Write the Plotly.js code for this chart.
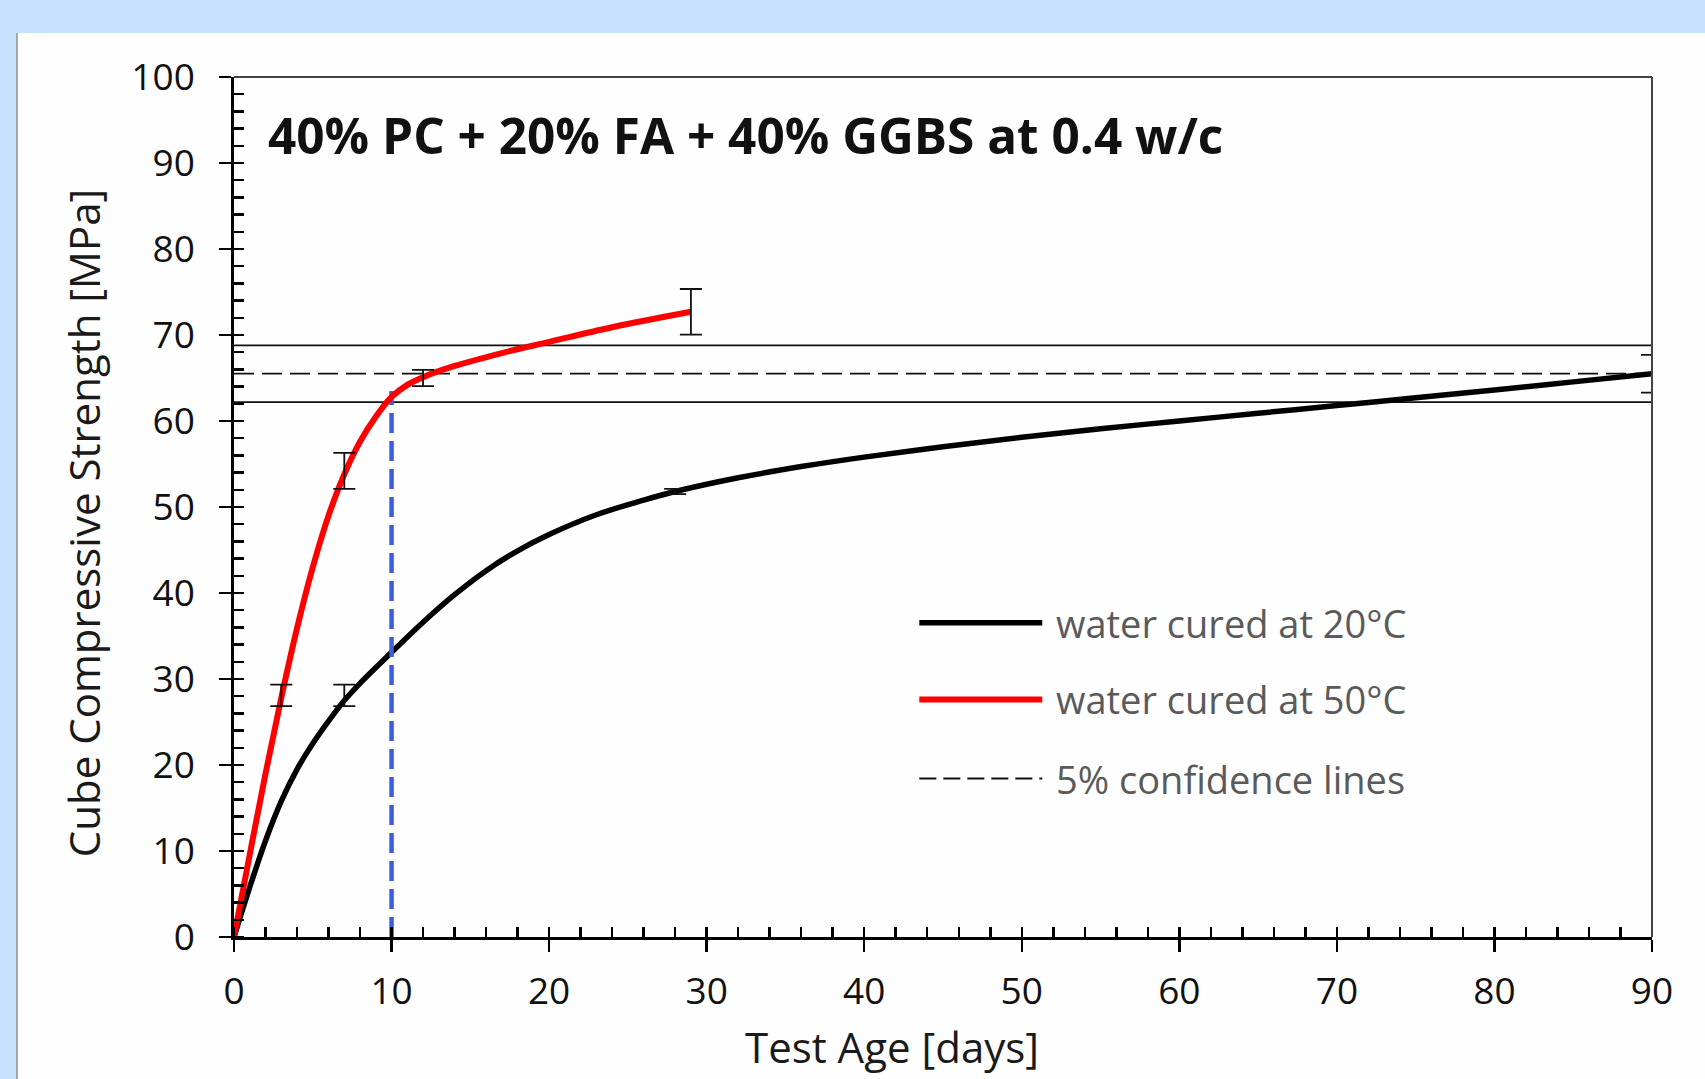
<!DOCTYPE html>
<html>
<head>
<meta charset="utf-8">
<script src="https://cdn.plot.ly/plotly-3.0.1.min.js"></script>
<style>
html,body{margin:0;padding:0;width:1705px;height:1079px;overflow:hidden;background:#c7e1fa;}
#panel{position:absolute;left:16px;top:33px;width:1689px;height:1046px;background:#fefefe;border-left:2px solid #9ea9b4;box-sizing:border-box;}
#chart{position:absolute;left:0;top:0;width:1705px;height:1079px;}
</style>
</head>
<body>
<div id="panel"></div>
<div id="chart"></div>
<script>
// ---- data ----
const chartTitle = "40% PC + 20% FA + 40% GGBS at 0.4 w/c";
const xTitle = "Test Age [days]";
const yTitle = "Cube Compressive Strength [MPa]";
const legendLabels = ["water cured at 20°C", "water cured at 50°C", "5% confidence lines"];

// water cured at 20°C (fitted curve)
const days20 = [0, 1, 2, 3, 4, 5, 6, 7, 8, 10, 12, 14, 16, 18, 20, 23, 26, 28, 32, 36, 40, 45, 50, 55, 60, 65, 70, 75, 80, 85, 90];
const strength20 = [0, 5.8, 11.2, 15.8, 19.5, 22.5, 25.1, 27.5, 29.5, 33.1, 36.6, 39.8, 42.6, 44.9, 46.8, 49.1, 50.8, 51.8, 53.4, 54.7, 55.8, 57.0, 58.1, 59.1, 60.0, 60.9, 61.8, 62.7, 63.6, 64.55, 65.5];

// water cured at 50°C (fitted curve)
const days50 = [0, 1, 2, 3, 4, 5, 6, 7, 8, 9, 10, 11, 12, 14, 17, 20, 24, 29];
const strength50 = [0, 9.6, 19.0, 27.8, 35.9, 43.0, 49.0, 53.8, 57.6, 60.5, 62.8, 64.2, 65.1, 66.4, 67.9, 69.2, 70.9, 72.7];

// measured means with error bars
const errDays20 = [7, 28, 90];
const errMean20 = [28.1, 51.8, 65.5];
const errSpread20 = [1.25, 0.3, 2.2];
const errDays50 = [3, 7, 12, 29];
const errMean50 = [28.1, 54.2, 65.0, 72.7];
const errSpread50 = [1.25, 2.1, 0.95, 2.65];

// 5% confidence lines around the 90-day 20°C strength
const confDays = [0, 90];
const confUpper = [68.8, 68.8];
const confMean = [65.5, 65.5];
const confLower = [62.2, 62.2];

// equivalent-age marker (blue dashed)
const equivDays = [10, 10];
const equivStrength = [0, 63.5];

// axis ranges
const xRange = [0, 90];
const yRange = [0, 100];

// ---- styling ----
const FONT = "Open Sans, Noto Sans, sans-serif";
const AX = "#000000";

const traces = [
  {x: confDays, y: confUpper, mode: "lines", line: {color: "#111", width: 1.8}, hoverinfo: "skip"},
  {x: confDays, y: confLower, mode: "lines", line: {color: "#111", width: 1.8}, hoverinfo: "skip"},
  {x: confDays, y: confMean, mode: "lines", line: {color: "#111", width: 1.8, dash: "20px,8px"}, hoverinfo: "skip"},
  {x: days20, y: strength20, mode: "lines", line: {color: "#000", width: 5.5, shape: "spline", smoothing: 1}},
  {x: equivDays, y: equivStrength, mode: "lines", line: {color: "#3b5fd8", width: 4.5, dash: "20px,8px"}},
  {x: days50, y: strength50, mode: "lines", line: {color: "#ff0000", width: 6, shape: "spline", smoothing: 1}},
  {x: errDays20, y: errMean20, mode: "markers", marker: {size: 1, opacity: 0},
   error_y: {type: "data", array: errSpread20, visible: true, color: "#111", thickness: 1.8, width: 11}},
  {x: errDays50, y: errMean50, mode: "markers", marker: {size: 1, opacity: 0},
   error_y: {type: "data", array: errSpread50, visible: true, color: "#111", thickness: 1.8, width: 11}},
  {x: [], y: [], xaxis: "x2", yaxis: "y", mode: "lines"},
  {x: [], y: [], xaxis: "x", yaxis: "y2", mode: "lines"}
];
traces.forEach(t => { t.showlegend = false; });

const tickFont = {family: FONT, size: 37, color: "#111"};

// legend drawn in paper coordinates
const legY = [0.3653, 0.2763, 0.1843];
const legX0 = 0.4833, legX1 = 0.570, legTextX = 0.578;
const legStyles = [
  {color: "#000", width: 5.5, dash: "solid"},
  {color: "#ff0000", width: 6, dash: "solid"},
  {color: "#111", width: 2, dash: "17px,7px"}
];
const shapes = [
  {type: "line", xref: "paper", yref: "paper", x0: 0, x1: 1, y0: 1, y1: 1, line: {color: "#444", width: 2}},
  {type: "line", xref: "paper", yref: "paper", x0: 1, x1: 1, y0: 0, y1: 1, line: {color: "#444", width: 2}}
];
const annotations = [
  {text: "<b>" + chartTitle + "</b>", xref: "paper", yref: "paper", x: 0.0229, y: 0.932,
   xanchor: "left", yanchor: "middle", showarrow: false, font: {family: FONT, size: 49.5, color: "#111"}},
  {text: xTitle, xref: "paper", yref: "paper", x: 0.464, y: -0.127, xanchor: "center", yanchor: "middle",
   showarrow: false, font: {family: FONT, size: 42, color: "#1a1a1a"}},
  {text: yTitle, xref: "paper", yref: "paper", x: -0.1062, y: 0.4817, xanchor: "center", yanchor: "middle",
   textangle: -90, showarrow: false, font: {family: FONT, size: 42, color: "#1a1a1a"}}
];
legendLabels.forEach((lab, i) => {
  shapes.push({type: "line", xref: "paper", yref: "paper", x0: legX0, x1: legX1, y0: legY[i], y1: legY[i], line: legStyles[i]});
  annotations.push({text: lab, xref: "paper", yref: "paper", x: legTextX, y: legY[i], xanchor: "left", yanchor: "middle",
    showarrow: false, font: {family: FONT, size: 38, color: "#5a5a5a"}});
});

const layout = {
  width: 1705, height: 1079,
  margin: {l: 234, r: 53, t: 77, b: 142, pad: 0},
  paper_bgcolor: "rgba(0,0,0,0)",
  plot_bgcolor: "rgba(0,0,0,0)",
  font: {family: FONT},
  showlegend: false,
  xaxis: {
    range: xRange, tick0: 0, dtick: 10, ticks: "outside", ticklen: 12, tickwidth: 2.5, tickcolor: AX,
    showline: true, linewidth: 2.8, linecolor: AX, showgrid: false, zeroline: false,
    tickfont: tickFont, ticklabelstandoff: 8,
    minor: {ticks: "inside", tick0: 0, dtick: 2, ticklen: 10, tickwidth: 2.5, tickcolor: AX, showgrid: false}
  },
  xaxis2: {
    overlaying: "x", anchor: "y", side: "bottom", range: xRange, tick0: 0, dtick: 10,
    ticks: "inside", ticklen: 10, tickwidth: 2.5, tickcolor: AX,
    showticklabels: false, showline: false, showgrid: false, zeroline: false
  },
  yaxis: {
    range: yRange, tick0: 0, dtick: 10, ticks: "outside", ticklen: 12, tickwidth: 2.5, tickcolor: AX,
    showline: true, linewidth: 2.8, linecolor: AX, showgrid: false, zeroline: false,
    tickfont: tickFont, ticklabelstandoff: 17,
    minor: {ticks: "inside", tick0: 0, dtick: 2, ticklen: 10, tickwidth: 2.5, tickcolor: AX, showgrid: false}
  },
  yaxis2: {
    overlaying: "y", anchor: "x", side: "left", range: yRange, tick0: 0, dtick: 10,
    ticks: "inside", ticklen: 10, tickwidth: 2.5, tickcolor: AX,
    showticklabels: false, showline: false, showgrid: false, zeroline: false
  },
  shapes: shapes,
  annotations: annotations
};

Plotly.newPlot("chart", traces, layout, {staticPlot: true, displayModeBar: false});
</script>
</body>
</html>
